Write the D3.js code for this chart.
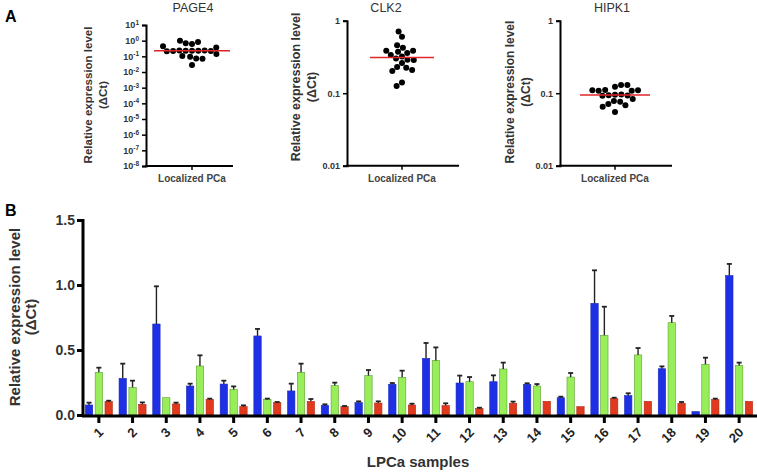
<!DOCTYPE html>
<html>
<head>
<meta charset="utf-8">
<script src="https://cdn.jsdelivr.net/npm/d3@7"></script>
<style>
  html, body { margin: 0; padding: 0; background: #fff; }
  svg { display: block; font-family: Arial, "Liberation Sans", sans-serif; }
</style>
</head>
<body>
<svg id="chart" width="757" height="472"></svg>
<script>
// ---------------- DATA ----------------
// Panel A: scatter dot plots (Localized PCa, n = 20)
const page4Dots = [0.44, 0.22, 0.23, 0.24, 0.82, 0.074, 0.23, 0.62, 0.14, 0.028,
                   0.21, 0.105, 0.68, 0.071, 0.22, 1.0, 0.095, 0.23, 0.24, 0.36];
const clk2Dots  = [0.374, 0.336, 0.30, 0.425, 0.287, 0.60, 0.386, 0.71, 0.29, 0.46,
                   0.32, 0.358, 0.386, 0.23, 0.209, 0.202, 0.225, 0.261, 0.126, 0.14];
const hipk1Dots = [0.096, 0.111, 0.094, 0.108, 0.092, 0.068, 0.13, 0.11, 0.078, 0.055,
                   0.13, 0.095, 0.065, 0.108, 0.071, 0.083, 0.11, 0.123, 0.093, 0.076];
const panelATitles = ["PAGE4", "CLK2", "HIPK1"];
const page4Ticks = [1e1, 1e0, 1e-1, 1e-2, 1e-3, 1e-4, 1e-5, 1e-6, 1e-7, 1e-8];
const page4TickExps = ["1", "0", "-1", "-2", "-3", "-4", "-5", "-6", "-7", "-8"];
const smallTicks = [1, 0.1, 0.01];
const smallTickLabels = ["1", "0.1", "0.01"];

// Panel B: grouped bars per LPCa sample
const samples = ["1","2","3","4","5","6","7","8","9","10","11","12","13","14","15","16","17","18","19","20"];
const seriesNames = ["PAGE4", "CLK2", "HIPK1"];
const page4Vals = [0.077,0.282,0.70,0.223,0.238,0.608,0.185,0.074,0.095,0.236,0.436,0.246,0.256,0.236,0.133,0.859,0.149,0.356,0.026,1.072];
const page4Err  = [0.018,0.113,0.29,0.018,0.026,0.054,0.056,0.008,0.010,0.010,0.118,0.057,0.049,0.008,0.008,0.254,0.018,0.018,0,0.09];
const clk2Vals  = [0.328,0.213,0.133,0.377,0.197,0.12,0.328,0.226,0.303,0.29,0.42,0.256,0.354,0.223,0.292,0.613,0.462,0.71,0.39,0.38];
const clk2Err   = [0.036,0.051,0,0.082,0.023,0.006,0.067,0.023,0.043,0.051,0.10,0.036,0.049,0.015,0.031,0.22,0.053,0.052,0.051,0.023];
const hipk1Vals = [0.103,0.082,0.085,0.12,0.064,0.095,0.105,0.064,0.092,0.077,0.072,0.049,0.09,0.105,0.064,0.126,0.105,0.09,0.118,0.105];
const hipk1Err  = [0.007,0.015,0.010,0.006,0.010,0.005,0.018,0.005,0.013,0.010,0.018,0.007,0.013,0,0,0.007,0,0.010,0.008,0];
const barTicks = [0, 0.5, 1.0, 1.5];
const barTickLabels = ["0.0", "0.5", "1.0", "1.5"];
const seriesColors = ["#1e30e6", "#98ee58", "#e0391d"];
const seriesStroke = ["#1a28b8", "#5d9f33", "#b02a14"];

// ---------------- DRAW ----------------
const svg = d3.select("#chart");
const FONT = 'Arial, "Liberation Sans", sans-serif';

// Panel letters
svg.append("text").attr("x", 5).attr("y", 22).attr("font-size", 16).attr("font-weight", "bold").text("A");
svg.append("text").attr("x", 5).attr("y", 216).attr("font-size", 16).attr("font-weight", "bold").text("B");

// beeswarm layout (x offsets computed from y collisions)
function swarm(vals, y, d) {
  const pts = vals.map((v, i) => ({ v, y: y(v), i }));
  const my = y(d3.median(vals));
  const order = pts.slice().sort((a, b) => d3.ascending(Math.abs(a.y - my), Math.abs(b.y - my)));
  const placed = [];
  order.forEach(p => {
    const cands = [0];
    placed.forEach(q => {
      const dy = Math.abs(q.y - p.y);
      if (dy < d) {
        const dx = Math.sqrt(d * d - dy * dy) + 0.01;
        cands.push(q.x + dx, q.x - dx);
      }
    });
    cands.sort((a, b) => Math.abs(a) - Math.abs(b) || a - b);
    for (const c of cands) {
      if (placed.every(q => (q.x - c) ** 2 + (q.y - p.y) ** 2 >= d * d - 0.01)) { p.x = c; break; }
    }
    placed.push(p);
  });
  return pts;
}

function dotPanel(cfg) {
  const g = svg.append("g");
  const y = d3.scaleLog().domain(cfg.domain).range([cfg.y1, cfg.y0]);
  const cx = cfg.xc;
  // y axis
  const ax = d3.axisLeft(y).tickValues(cfg.ticks).tickSize(4).tickPadding(3).tickFormat(() => "");
  const ga = g.append("g").attr("transform", `translate(${cfg.x0},0)`).call(ax);
  ga.select(".domain").attr("stroke", "#000").attr("stroke-width", 2);
  ga.selectAll(".tick line").attr("stroke", "#000").attr("stroke-width", 1.5);
  ga.selectAll(".tick").each(function (t, i) {
    const tx = d3.select(this).select("text")
      .attr("font-size", 9).attr("font-weight", "bold").attr("fill", "#333")
      .attr("font-family", FONT);
    cfg.label(tx, i);
  });
  // x axis
  g.append("line").attr("x1", cfg.x0 - 1).attr("x2", cfg.x1).attr("y1", cfg.y1).attr("y2", cfg.y1)
    .attr("stroke", "#000").attr("stroke-width", 2);
  g.append("line").attr("x1", cx).attr("x2", cx).attr("y1", cfg.y1).attr("y2", cfg.y1 + 4)
    .attr("stroke", "#000").attr("stroke-width", 1.5);
  g.append("text").attr("x", cx).attr("y", cfg.y1 + 16).attr("text-anchor", "middle")
    .attr("font-size", 10).attr("font-weight", "bold").attr("fill", "#444").text("Localized PCa");
  g.append("text").attr("x", cfg.titleX).attr("y", 12).attr("text-anchor", "middle")
    .attr("font-size", 12.5).attr("fill", "#333").text(cfg.title);
  // y title
  const yt = g.append("text").attr("transform", `translate(${cfg.ylabX},${cfg.ylabY}) rotate(-90)`)
    .attr("text-anchor", "middle").attr("font-size", cfg.ylabSize).attr("font-weight", "bold").attr("fill", "#333");
  yt.append("tspan").attr("x", 0).attr("dy", 0).text("Relative expression level");
  yt.append("tspan").attr("x", 0).attr("dy", cfg.ylabSize * 1.3).text("(\u0394Ct)");
  // dots
  const r = 3;
  const pts = swarm(cfg.vals, y, 2 * r + 0.3);
  g.selectAll("circle").data(pts).join("circle")
    .attr("cx", d => cx + d.x).attr("cy", d => d.y).attr("r", r).attr("fill", "#000");
  // median line
  const med = d3.median(cfg.vals);
  g.append("line").attr("x1", cx - cfg.medHalf).attr("x2", cx + cfg.medHalf)
    .attr("y1", y(med)).attr("y2", y(med)).attr("stroke", "#e0262a").attr("stroke-width", 1.5);
}

dotPanel({
  title: panelATitles[0], titleX: 193, vals: page4Dots, domain: [1e-8, 1e1], ticks: page4Ticks,
  x0: 146, x1: 233, xc: 192, y0: 25, y1: 166, ylabX: 92, ylabY: 95, ylabSize: 11.5, medHalf: 38,
  label: (tx, i) => {
    tx.text(null);
    tx.append("tspan").text("10");
    tx.append("tspan").attr("dy", -3.5).attr("font-size", 6.5).text(page4TickExps[i]);
  }
});
dotPanel({
  title: panelATitles[1], titleX: 386, vals: clk2Dots, domain: [0.01, 1], ticks: smallTicks,
  x0: 347, x1: 459, xc: 402, y0: 20.7, y1: 165.7, ylabX: 300, ylabY: 87, ylabSize: 12.5, medHalf: 32,
  label: (tx, i) => tx.text(smallTickLabels[i])
});
dotPanel({
  title: panelATitles[2], titleX: 612, vals: hipk1Dots, domain: [0.01, 1], ticks: smallTicks,
  x0: 560, x1: 672, xc: 615, y0: 20.7, y1: 165.7, ylabX: 514, ylabY: 92, ylabSize: 12, medHalf: 35,
  label: (tx, i) => tx.text(smallTickLabels[i])
});

// ---------------- Panel B ----------------
const series = [
  { name: seriesNames[0], vals: page4Vals, err: page4Err },
  { name: seriesNames[1], vals: clk2Vals, err: clk2Err },
  { name: seriesNames[2], vals: hipk1Vals, err: hipk1Err }
];
const x = d3.scaleBand().domain(samples).range([82, 756]).padding(0);
const xs = d3.scaleBand().domain(seriesNames).range([-13.5, 13.5]).paddingInner(0.25);
const yB = d3.scaleLinear().domain([0, 1.5]).range([415, 220]);

const gB = svg.append("g");
const groups = gB.selectAll("g.grp").data(samples).join("g")
  .attr("transform", d => `translate(${x(d) + x.bandwidth() / 2},0)`);

series.forEach((s, si) => {
  groups.append("rect")
    .attr("x", xs(s.name)).attr("width", xs.bandwidth())
    .attr("y", (d, i) => yB(s.vals[i])).attr("height", (d, i) => yB(0) - yB(s.vals[i]))
    .attr("fill", seriesColors[si]).attr("stroke", seriesStroke[si]).attr("stroke-width", 0.6);
  groups.each(function (d, i) {
    if (s.err[i] > 0) {
      const cxx = xs(s.name) + xs.bandwidth() / 2;
      const g = d3.select(this);
      g.append("line").attr("x1", cxx).attr("x2", cxx)
        .attr("y1", yB(s.vals[i])).attr("y2", yB(s.vals[i] + s.err[i]))
        .attr("stroke", "#222").attr("stroke-width", 1.4);
      g.append("line").attr("x1", cxx - 2.5).attr("x2", cxx + 2.5)
        .attr("y1", yB(s.vals[i] + s.err[i])).attr("y2", yB(s.vals[i] + s.err[i]))
        .attr("stroke", "#222").attr("stroke-width", 1.8);
    }
  });
});

// y axis
const yAxB = gB.append("g").attr("transform", "translate(83,0)")
  .call(d3.axisLeft(yB).tickValues(barTicks).tickSize(6).tickPadding(2)
    .tickFormat((d, i) => barTickLabels[i]));
yAxB.select(".domain").attr("stroke", "#000").attr("stroke-width", 3).attr("d", "M0,415V219");
yAxB.selectAll(".tick line").attr("stroke", "#000").attr("stroke-width", 3);
yAxB.selectAll(".tick text").attr("font-size", 14).attr("font-weight", "bold").attr("fill", "#333")
  .attr("font-family", FONT);

// x axis
const xAxB = gB.append("g").attr("transform", "translate(0,416)")
  .call(d3.axisBottom(x).tickSize(7).tickSizeOuter(0).tickPadding(0));
xAxB.select(".domain").attr("stroke", "#000").attr("stroke-width", 3).attr("d", "M82,0H757");
xAxB.selectAll(".tick line").attr("stroke", "#000").attr("stroke-width", 3);
xAxB.selectAll(".tick text")
  .attr("font-size", 13).attr("font-weight", "bold").attr("fill", "#222").attr("font-family", FONT)
  .attr("text-anchor", "end").attr("y", null).attr("dy", "0.35em")
  .attr("transform", "translate(2,14) rotate(-45)");

// titles
const ytB = gB.append("text").attr("transform", "translate(0,317) rotate(-90)")
  .attr("text-anchor", "middle").attr("font-size", 15).attr("font-weight", "bold").attr("fill", "#333");
ytB.append("tspan").attr("x", 0).attr("y", 20).text("Relative expression level");
ytB.append("tspan").attr("x", 0).attr("y", 36).text("(\u0394Ct)");
gB.append("text").attr("x", 418).attr("y", 467).attr("text-anchor", "middle")
  .attr("font-size", 15).attr("font-weight", "bold").attr("fill", "#333").text("LPCa samples");
</script>
</body>
</html>
